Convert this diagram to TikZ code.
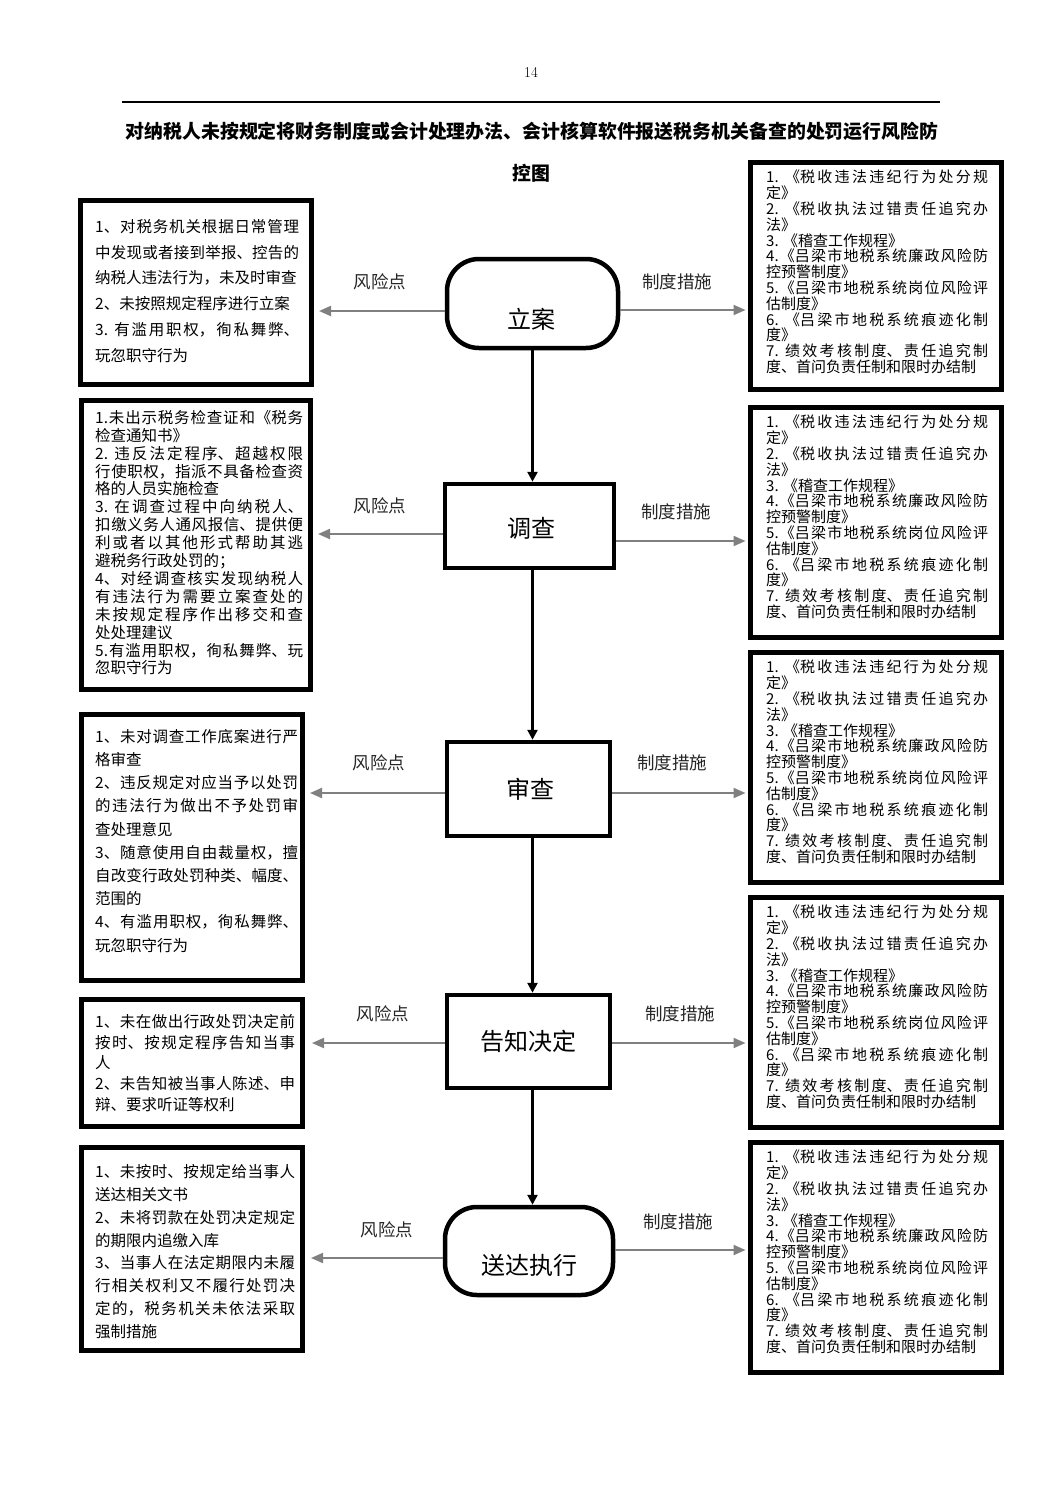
\documentclass[tikz,border=0pt]{standalone}
\usepackage{fontspec}
\newfontfamily\cjk{Noto Sans CJK SC}
\usetikzlibrary{arrows.meta}
\XeTeXlinebreaklocale "zh"
\XeTeXlinebreakskip=0pt plus 6pt
\setlength\parindent{0pt}
\newcommand\zdtext{1. 《税收违法违纪行为处分规\linebreak 定》\par
2. 《税收执法过错责任追究办\linebreak 法》\par
3. 《稽查工作规程》\par
4.《吕梁市地税系统廉政风险防\linebreak 控预警制度》\par
5.《吕梁市地税系统岗位风险评\linebreak 估制度》\par
6. 《吕梁市地税系统痕迹化制\linebreak 度》\par
7. 绩效考核制度、责任追究制\linebreak 度、首问负责任制和限时办结制}
\tikzset{
  frame/.style={draw, line width=5pt, inner sep=0pt},
  txt/.style={anchor=north west, inner sep=0pt, align=justify},
  rtxt/.style={txt, text width=222pt, font=\cjk\fontsize{15}{15.8}\selectfont},
  stadium/.style={draw, line width=4.5pt, rounded corners=32pt, inner sep=0pt},
  stepbox/.style={draw, line width=4.5pt, inner sep=0pt},
  maintext/.style={font=\cjk\fontsize{24}{24}\selectfont, inner sep=0pt},
  lab/.style={font=\cjk\fontsize{17.5}{17.5}\selectfont, text=black!85, inner sep=0pt},
  harrow/.style={draw=black!50, line width=2pt, -{Triangle[length=12pt,width=10pt,fill=black!50]}},
  varrow/.style={draw=black, line width=2.5pt, -{Triangle[length=10pt,width=10pt]}},
}
\begin{document}
\begin{tikzpicture}[x=1pt,y=-1pt]
\useasboundingbox (0,0) rectangle (1063,1502);
\fill[white] (0,0) rectangle (1063,1502);

% header
\node[font=\fontsize{15}{15}\selectfont, inner sep=0pt] (pg) at (531,72) {14};
\draw[line width=1.8pt] (122,102) -- (940,102);
\node[font=\cjk\bfseries\fontsize{18.9}{18.9}\selectfont, inner sep=0pt] (t1) at (532,131)
  {对纳税人未按规定将财务制度或会计处理办法、会计核算软件报送税务机关备查的处罚运行风险防};
\node[font=\cjk\bfseries\fontsize{18.9}{18.9}\selectfont, inner sep=0pt] (t2) at (531,173) {控图};

% central steps
\node[stadium, minimum width=171pt, minimum height=89pt] (la) at (532.5,303.5) {};
\node[maintext] (lat) at (531,319) {立案};
\node[stepbox, minimum width=169pt, minimum height=84pt] (db) at (529.5,526) {};
\node[maintext] (dbt) at (531,528) {调查};
\node[stepbox, minimum width=163pt, minimum height=94pt] (sc) at (528.5,789) {};
\node[maintext] (sct) at (530,789) {审查};
\node[stepbox, minimum width=163pt, minimum height=93pt] (ga) at (528.5,1041.5) {};
\node[maintext] (gat) at (528,1041) {告知决定};
\node[stadium, minimum width=168pt, minimum height=88pt] (sd) at (529,1251) {};
\node[maintext] (sdt) at (529,1265) {送达执行};

% vertical arrows
\draw[varrow] (la.south) -- (la.south |- db.north);
\draw[varrow] (la.south |- db.south) -- (la.south |- sc.north);
\draw[varrow] (la.south |- sc.south) -- (la.south |- ga.north);
\draw[varrow] (la.south |- ga.south) -- (la.south |- sd.north);

% left boxes
\node[frame, minimum width=231pt, minimum height=184pt] (L1) at (196,292.5) {};
\node[txt, text width=204pt, font=\cjk\fontsize{15.5}{25.8}\selectfont] (L1t) at (95,219) {1、对税务机关根据日常管理\linebreak 中发现或者接到举报、控告的\linebreak 纳税人违法行为，未及时审查\par
2、未按照规定程序进行立案\par
3. 有滥用职权，徇私舞弊、\linebreak 玩忽职守行为};

\node[frame, minimum width=229pt, minimum height=289pt] (L2) at (196,545) {};
\node[txt, text width=208pt, font=\cjk\fontsize{15.5}{17.9}\selectfont] (L2t) at (95,410) {1.未出示税务检查证和《税务\linebreak 检查通知书》\par
2. 违反法定程序、超越权限\linebreak 行使职权，指派不具备检查资\linebreak 格的人员实施检查\par
3. 在调查过程中向纳税人、\linebreak 扣缴义务人通风报信、提供便\linebreak 利或者以其他形式帮助其逃\linebreak 避税务行政处罚的；\par
4、对经调查核实发现纳税人\linebreak 有违法行为需要立案查处的\linebreak 未按规定程序作出移交和查\linebreak 处处理建议\par
5.有滥用职权，徇私舞弊、玩\linebreak 忽职守行为};

\node[frame, minimum width=221pt, minimum height=266pt] (L3) at (192,847.5) {};
\node[txt, text width=203pt, font=\cjk\fontsize{15.5}{23.2}\selectfont] (L3t) at (95,729) {1、未对调查工作底案进行严\linebreak 格审查\par
2、违反规定对应当予以处罚\linebreak 的违法行为做出不予处罚审\linebreak 查处理意见\par
3、随意使用自由裁量权，擅\linebreak 自改变行政处罚种类、幅度、\linebreak 范围的\par
4、有滥用职权，徇私舞弊、\linebreak 玩忽职守行为};

\node[frame, minimum width=221pt, minimum height=127pt] (L4) at (192,1063) {};
\node[txt, text width=200pt, font=\cjk\fontsize{15.5}{20.8}\selectfont] (L4t) at (95,1014) {1、未在做出行政处罚决定前\linebreak 按时、按规定程序告知当事\linebreak 人\par
2、未告知被当事人陈述、申\linebreak 辩、要求听证等权利};

\node[frame, minimum width=221pt, minimum height=203pt] (L5) at (192,1249) {};
\node[txt, text width=200pt, font=\cjk\fontsize{15.5}{22.9}\selectfont] (L5t) at (95,1164) {1、未按时、按规定给当事人\linebreak 送达相关文书\par
2、未将罚款在处罚决定规定\linebreak 的期限内追缴入库\par
3、当事人在法定期限内未履\linebreak 行相关权利又不履行处罚决\linebreak 定的，税务机关未依法采取\linebreak 强制措施};

% right boxes
\node[frame, minimum width=251pt, minimum height=227pt] (R1) at (876,276) {};
\node[rtxt] (R1t) at (766,170) {\zdtext};
\node[frame, minimum width=251pt, minimum height=230pt] (R2) at (876,522.5) {};
\node[rtxt] (R2t) at (766,415) {\zdtext};
\node[frame, minimum width=251pt, minimum height=230pt] (R3) at (876,767.5) {};
\node[rtxt] (R3t) at (766,660) {\zdtext};
\node[frame, minimum width=251pt, minimum height=230pt] (R4) at (876,1012.5) {};
\node[rtxt] (R4t) at (766,905) {\zdtext};
\node[frame, minimum width=251pt, minimum height=230pt] (R5) at (876,1257.5) {};
\node[rtxt] (R5t) at (766,1150) {\zdtext};

% horizontal arrows
\draw[harrow, shorten >=5pt] ([yshift=-7.5pt]la.west) -- ([yshift=-7.5pt]la.west -| L1.east);
\draw[harrow, shorten >=2.5pt] ([yshift=-6.5pt]la.east) -- ([yshift=-6.5pt]la.east -| R1.west);
\draw[harrow, shorten >=5pt] ([yshift=-8pt]db.west) -- ([yshift=-8pt]db.west -| L2.east);
\draw[harrow, shorten >=2.5pt] ([yshift=-15pt]db.east) -- ([yshift=-15pt]db.east -| R2.west);
\draw[harrow, shorten >=5pt] ([yshift=-4pt]sc.west) -- ([yshift=-4pt]sc.west -| L3.east);
\draw[harrow, shorten >=2.5pt] ([yshift=-4pt]sc.east) -- ([yshift=-4pt]sc.east -| R3.west);
\draw[harrow, shorten >=7pt] ([yshift=-1.5pt]ga.west) -- ([yshift=-1.5pt]ga.west -| L4.east);
\draw[harrow, shorten >=2.5pt] ([yshift=-1.5pt]ga.east) -- ([yshift=-1.5pt]ga.east -| R4.west);
\draw[harrow, shorten >=6pt] ([yshift=-7pt]sd.west) -- ([yshift=-7pt]sd.west -| L5.east);
\draw[harrow, shorten >=2.5pt] ([yshift=1pt]sd.east) -- ([yshift=1pt]sd.east -| R5.west);

% labels
\node[lab] (k1) at (380,282) {风险点};
\node[lab] (m1) at (677,282) {制度措施};
\node[lab] (k2) at (380,506) {风险点};
\node[lab] (m2) at (676,512) {制度措施};
\node[lab] (k3) at (379,763) {风险点};
\node[lab] (m3) at (672,763) {制度措施};
\node[lab] (k4) at (383,1014) {风险点};
\node[lab] (m4) at (680,1014) {制度措施};
\node[lab] (k5) at (387,1230) {风险点};
\node[lab] (m5) at (678,1222) {制度措施};
\end{tikzpicture}
\end{document}
